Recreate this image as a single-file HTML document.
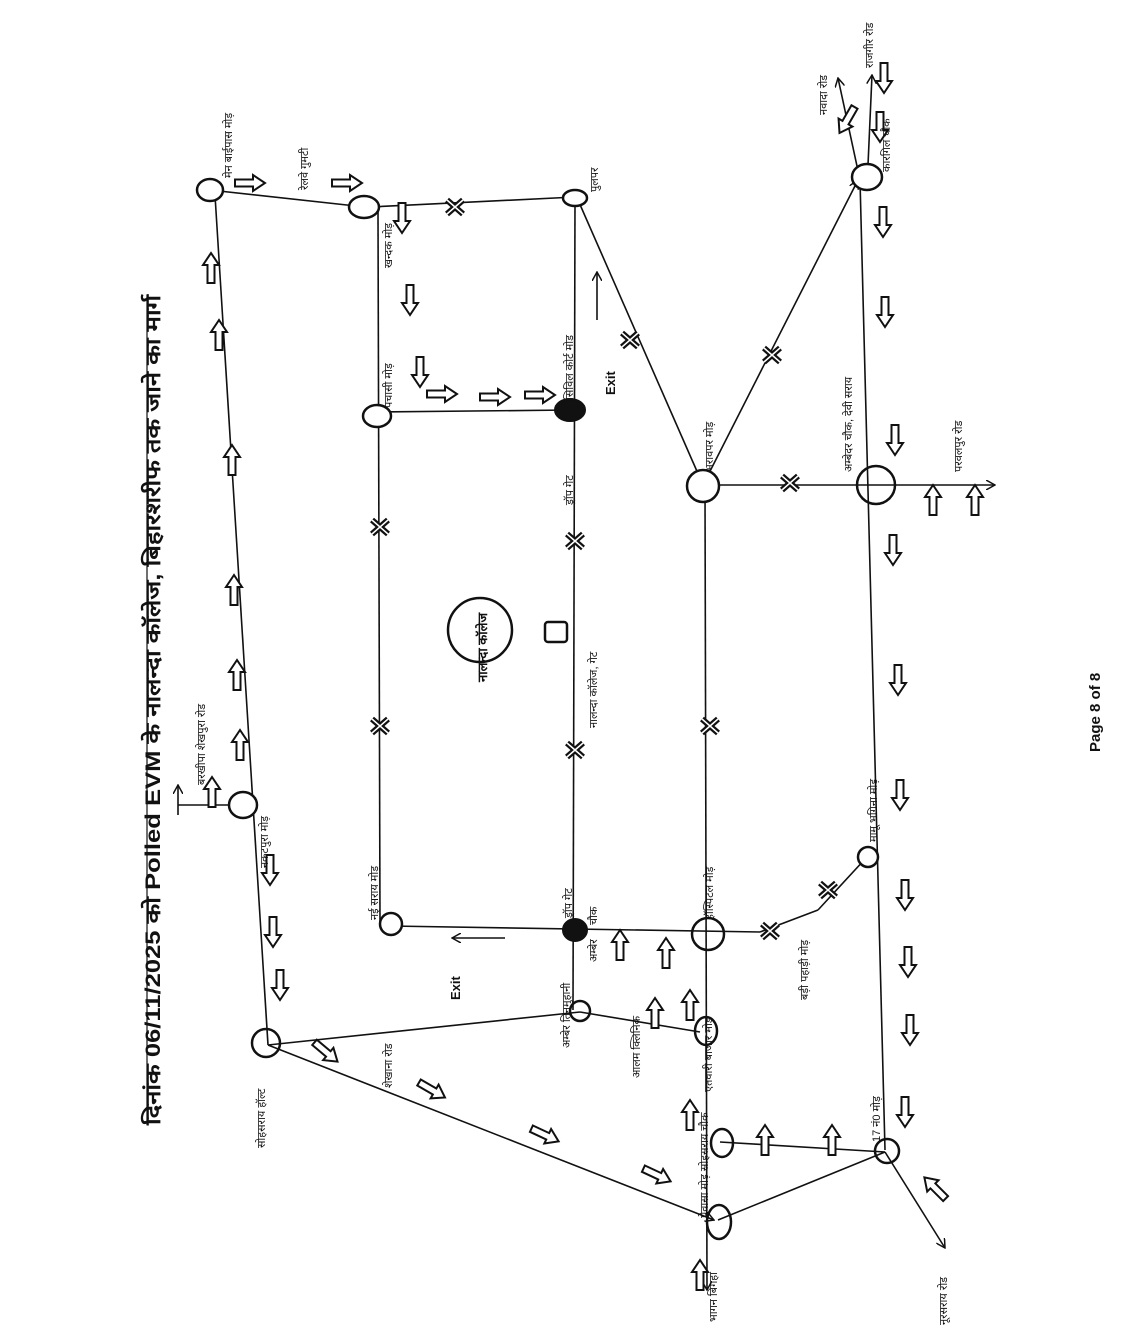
<!DOCTYPE html>
<html><head><meta charset="utf-8"><style>
html,body{margin:0;padding:0;background:#fff;}
svg{display:block;}
text{font-family:"Liberation Sans","DejaVu Sans","Noto Sans CJK SC",sans-serif;fill:#111;font-size:11px;}
</style></head><body>
<svg width="1132" height="1326" viewBox="0 0 1132 1326" xmlns="http://www.w3.org/2000/svg">
<defs>
<g id="ha"><polygon points="-15,-3.5 3,-3.5 3,-8 15,0 3,8 3,3.5 -15,3.5" fill="#fff" stroke="#111" stroke-width="2"/></g>
<g id="xm"><path d="M-8,-7 L8,7 M-8,7 L8,-7" stroke="#111" stroke-width="6"/><path d="M-8,-7 L8,7 M-8,7 L8,-7" stroke="#fff" stroke-width="1.5"/></g>
<marker id="ah" markerWidth="10" markerHeight="10" refX="9" refY="5" orient="auto" markerUnits="userSpaceOnUse"><path d="M0,0 L9,5 L0,10" fill="none" stroke="#111" stroke-width="1.5"/></marker>
</defs>
<g stroke="#111" stroke-width="1.6" fill="none">
<line x1="210" y1="190" x2="365" y2="207"/>
<line x1="215" y1="195" x2="268" y2="1045"/>
<line x1="370" y1="207" x2="575" y2="197"/>
<line x1="378" y1="212" x2="380" y2="925"/>
<line x1="378" y1="412" x2="570" y2="410"/>
<line x1="575" y1="200" x2="573" y2="1010"/>
<line x1="578" y1="200" x2="703" y2="485"/>
<line x1="703" y1="485" x2="858" y2="180" marker-end="url(#ah)"/>
<line x1="703" y1="485" x2="876" y2="485"/>
<line x1="860" y1="180" x2="885" y2="1150"/>
<line x1="860" y1="180" x2="838" y2="78" marker-end="url(#ah)"/>
<line x1="868" y1="165" x2="872" y2="75" marker-end="url(#ah)"/>
<line x1="876" y1="485" x2="995" y2="485" marker-end="url(#ah)"/>
<line x1="705" y1="490" x2="707" y2="1290" marker-end="url(#ah)"/>
<line x1="390" y1="926" x2="760" y2="932"/>
<line x1="760" y1="932" x2="818" y2="910"/>
<line x1="818" y1="910" x2="866" y2="858"/>
<line x1="268" y1="1045" x2="580" y2="1012"/>
<line x1="580" y1="1012" x2="700" y2="1032"/>
<line x1="268" y1="1045" x2="714" y2="1220" marker-end="url(#ah)"/>
<line x1="720" y1="1142" x2="885" y2="1152"/>
<line x1="718" y1="1220" x2="885" y2="1152"/>
<line x1="885" y1="1152" x2="945" y2="1248" marker-end="url(#ah)"/>
<line x1="243" y1="805" x2="178" y2="805"/>
<line x1="178" y1="815" x2="178" y2="785" marker-end="url(#ah)"/>
<line x1="597" y1="320" x2="597" y2="272" marker-end="url(#ah)"/>
<line x1="505" y1="938" x2="452" y2="938" marker-end="url(#ah)"/>
<ellipse cx="210" cy="190" rx="13" ry="11" stroke-width="2.5" fill="#fff"/>
<ellipse cx="364" cy="207" rx="15" ry="11" stroke-width="2.5" fill="#fff"/>
<ellipse cx="575" cy="198" rx="12" ry="8" stroke-width="2.5" fill="#fff"/>
<ellipse cx="377" cy="416" rx="14" ry="11" stroke-width="2.5" fill="#fff"/>
<ellipse cx="570" cy="410" rx="15" ry="11" fill="#111" stroke-width="2"/>
<ellipse cx="867" cy="177" rx="15" ry="13" stroke-width="2.5" fill="#fff"/>
<circle cx="703" cy="486" r="16" stroke-width="2.5" fill="#fff"/>
<circle cx="876" cy="485" r="19" stroke-width="2.5" fill="none"/>
<ellipse cx="243" cy="805" rx="14" ry="13" stroke-width="2.5" fill="#fff"/>
<circle cx="391" cy="924" r="11" stroke-width="2.5" fill="#fff"/>
<ellipse cx="575" cy="930" rx="12" ry="11" fill="#111" stroke-width="2"/>
<circle cx="708" cy="934" r="16" stroke-width="2.5" fill="none"/>
<circle cx="580" cy="1011" r="10" stroke-width="2.5" fill="none"/>
<ellipse cx="706" cy="1031" rx="11" ry="14" stroke-width="2.5" fill="none"/>
<circle cx="266" cy="1043" r="14" stroke-width="2.5" fill="none"/>
<ellipse cx="722" cy="1143" rx="11" ry="14" stroke-width="2.5" fill="none"/>
<ellipse cx="719" cy="1222" rx="12" ry="17" stroke-width="2.5" fill="none"/>
<circle cx="887" cy="1151" r="12" stroke-width="2.5" fill="none"/>
<circle cx="868" cy="857" r="10" stroke-width="2.5" fill="#fff"/>
<circle cx="480" cy="630" r="32" stroke-width="2.5" fill="none"/>
<rect x="545" y="622" width="22" height="20" rx="3" stroke-width="2.5" fill="#fff"/>
<line x1="147" y1="295" x2="147" y2="1125" stroke-width="1.2"/>
</g>
<use href="#xm" x="455" y="207"/><use href="#xm" x="630" y="340"/><use href="#xm" x="772" y="355"/>
<use href="#xm" x="790" y="483"/><use href="#xm" x="380" y="527"/><use href="#xm" x="575" y="541"/>
<use href="#xm" x="710" y="726"/><use href="#xm" x="575" y="750"/><use href="#xm" x="380" y="726"/>
<use href="#xm" x="770" y="931"/><use href="#xm" x="828" y="890"/>
<use href="#ha" transform="translate(250,183)"/><use href="#ha" transform="translate(347,183)"/>
<use href="#ha" transform="translate(211,268) rotate(-90)"/><use href="#ha" transform="translate(219,335) rotate(-90)"/>
<use href="#ha" transform="translate(232,460) rotate(-90)"/><use href="#ha" transform="translate(234,590) rotate(-90)"/>
<use href="#ha" transform="translate(237,675) rotate(-90)"/><use href="#ha" transform="translate(240,745) rotate(-90)"/>
<use href="#ha" transform="translate(212,792) rotate(-90)"/>
<use href="#ha" transform="translate(270,870) rotate(90)"/><use href="#ha" transform="translate(273,932) rotate(90)"/>
<use href="#ha" transform="translate(280,985) rotate(90)"/>
<use href="#ha" transform="translate(402,218) rotate(90)"/><use href="#ha" transform="translate(410,300) rotate(90)"/>
<use href="#ha" transform="translate(420,372) rotate(90)"/>
<use href="#ha" transform="translate(442,394)"/><use href="#ha" transform="translate(495,397)"/><use href="#ha" transform="translate(540,395)"/>
<use href="#ha" transform="translate(847,120) rotate(120)"/>
<use href="#ha" transform="translate(884,78) rotate(90)"/><use href="#ha" transform="translate(880,127) rotate(90)"/>
<use href="#ha" transform="translate(883,222) rotate(90)"/><use href="#ha" transform="translate(885,312) rotate(90)"/>
<use href="#ha" transform="translate(895,440) rotate(90)"/>
<use href="#ha" transform="translate(933,500) rotate(-90)"/><use href="#ha" transform="translate(975,500) rotate(-90)"/>
<use href="#ha" transform="translate(893,550) rotate(90)"/><use href="#ha" transform="translate(898,680) rotate(90)"/>
<use href="#ha" transform="translate(900,795) rotate(90)"/><use href="#ha" transform="translate(905,895) rotate(90)"/>
<use href="#ha" transform="translate(908,962) rotate(90)"/><use href="#ha" transform="translate(910,1030) rotate(90)"/>
<use href="#ha" transform="translate(905,1112) rotate(90)"/>
<use href="#ha" transform="translate(326,1052) rotate(40)"/><use href="#ha" transform="translate(432,1090) rotate(30)"/>
<use href="#ha" transform="translate(545,1135) rotate(25)"/><use href="#ha" transform="translate(657,1175) rotate(25)"/>
<use href="#ha" transform="translate(935,1188) rotate(-135)"/>
<use href="#ha" transform="translate(832,1140) rotate(-90)"/><use href="#ha" transform="translate(765,1140) rotate(-90)"/>
<use href="#ha" transform="translate(690,1115) rotate(-90)"/><use href="#ha" transform="translate(700,1275) rotate(-90)"/>
<use href="#ha" transform="translate(620,945) rotate(-90)"/><use href="#ha" transform="translate(666,953) rotate(-90)"/>
<use href="#ha" transform="translate(690,1005) rotate(-90)"/><use href="#ha" transform="translate(655,1013) rotate(-90)"/>
<g>
<text transform="translate(160,1125) rotate(-90)" textLength="830" lengthAdjust="spacingAndGlyphs" style="font-size:21px;font-weight:bold;">दिनांक 06/11/2025 को Polled EVM के नालन्दा कॉलेज, बिहारशरीफ तक जाने का मार्ग</text>
<text transform="translate(1100,752) rotate(-90)" style="font-size:15px;font-weight:bold;">Page 8 of 8</text>
<text transform="translate(232,178) rotate(-90)">मेन बाईपास मोड़</text>
<text transform="translate(308,190) rotate(-90)">रेलवे गुमटी</text>
<text transform="translate(392,268) rotate(-90)">खन्दक मोड़</text>
<text transform="translate(598,192) rotate(-90)">पुलपर</text>
<text transform="translate(392,408) rotate(-90)">पचासी मोड़</text>
<text transform="translate(573,400) rotate(-90)">सिविल कोर्ट मोड़</text>
<text transform="translate(573,505) rotate(-90)">ड्रॉप गेट</text>
<text transform="translate(615,395) rotate(-90)" style="font-size:13px;font-weight:bold;">Exit</text>
<text transform="translate(713,472) rotate(-90)">भरावपर मोड़</text>
<text transform="translate(852,472) rotate(-90)">अम्बेदर चौक, देवी सराय</text>
<text transform="translate(962,472) rotate(-90)">परवलपुर रोड</text>
<text transform="translate(890,172) rotate(-90)">कारगिल चौक</text>
<text transform="translate(827,115) rotate(-90)">नवादा रोड</text>
<text transform="translate(873,68) rotate(-90)">राजगीर रोड</text>
<text transform="translate(487,682) rotate(-90)" style="font-size:13px;font-weight:bold;">नालन्दा कॉलेज</text>
<text transform="translate(597,728) rotate(-90)">नालन्दा कॉलेज, गेट</text>
<text transform="translate(205,785) rotate(-90)">बरखीपा शेखपुरा रोड</text>
<text transform="translate(268,868) rotate(-90)">नकटपुरा मोड़</text>
<text transform="translate(378,920) rotate(-90)">नई सराय मोड़</text>
<text transform="translate(572,918) rotate(-90)">ड्रॉप गेट</text>
<text transform="translate(597,925) rotate(-90)">चौक</text>
<text transform="translate(597,962) rotate(-90)">अम्बेर</text>
<text transform="translate(460,1000) rotate(-90)" style="font-size:13px;font-weight:bold;">Exit</text>
<text transform="translate(713,920) rotate(-90)">हॉस्पिटल मोड़</text>
<text transform="translate(808,1000) rotate(-90)">बड़ी पहाड़ी मोड़</text>
<text transform="translate(877,842) rotate(-90)">मामू भगिना मोड़</text>
<text transform="translate(392,1088) rotate(-90)">शेखाना रोड</text>
<text transform="translate(570,1048) rotate(-90)">अम्बेर तिनमुहानी</text>
<text transform="translate(640,1078) rotate(-90)">आलम क्लिनिक</text>
<text transform="translate(712,1092) rotate(-90)">एतवारी बाजार मोड़</text>
<text transform="translate(265,1148) rotate(-90)">सोहसराय हॉल्ट</text>
<text transform="translate(708,1218) rotate(-90)">पेवासा मोड़ सोहसराय चौक</text>
<text transform="translate(880,1142) rotate(-90)">17 नं0 मोड़</text>
<text transform="translate(717,1322) rotate(-90)">भागन बिगहा</text>
<text transform="translate(947,1325) rotate(-90)">नूरसराय रोड</text>
</g>
</svg>
</body></html>
